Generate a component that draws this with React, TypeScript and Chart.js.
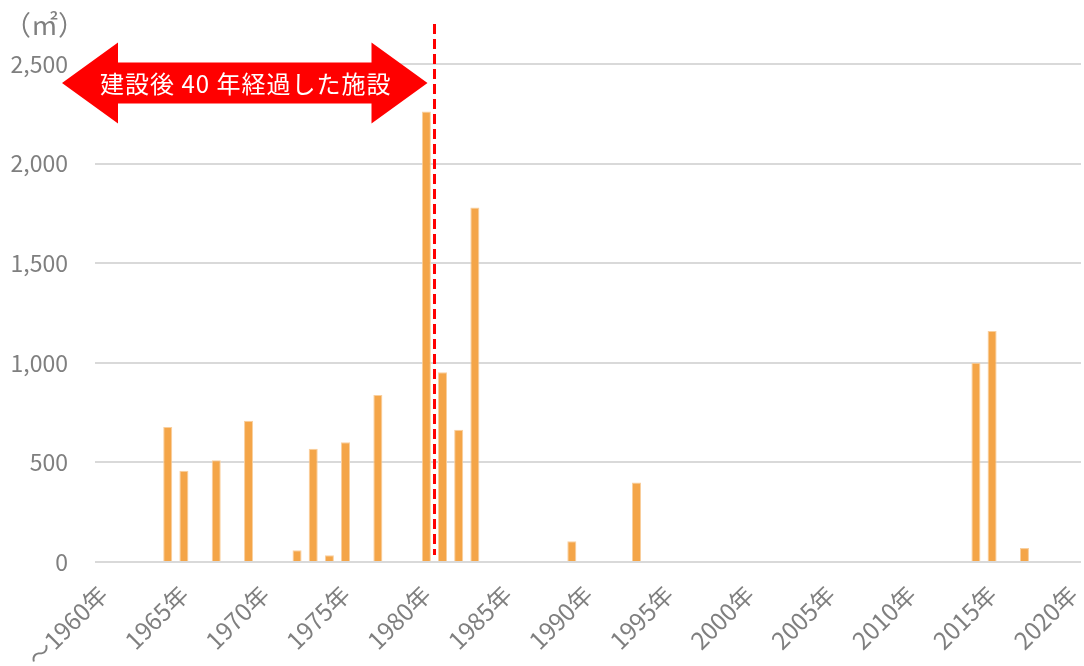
import React, { useEffect, useRef } from "react";
import { Chart, registerables } from "chart.js";

Chart.register(...registerables);

// Construction year categories (the first one gathers everything up to 1960)
const years = [
  1960, 1961, 1962, 1963, 1964, 1965, 1966, 1967, 1968, 1969,
  1970, 1971, 1972, 1973, 1974, 1975, 1976, 1977, 1978, 1979,
  1980, 1981, 1982, 1983, 1984, 1985, 1986, 1987, 1988, 1989,
  1990, 1991, 1992, 1993, 1994, 1995, 1996, 1997, 1998, 1999,
  2000, 2001, 2002, 2003, 2004, 2005, 2006, 2007, 2008, 2009,
  2010, 2011, 2012, 2013, 2014, 2015, 2016, 2017, 2018, 2019,
  2020,
];

// Years in which facilities were built and their total floor area (㎡)
const builtYears = [
  1964, 1965, 1967, 1969, 1972, 1973, 1974, 1975, 1977,
  1980, 1981, 1982, 1983, 1989, 1993, 2014, 2015, 2017,
];
const floorArea = [
  678, 458, 511, 709, 59, 568, 34, 601, 838,
  2262, 952, 664, 1779, 104, 399, 1000, 1160, 70,
];

// Y axis ticks
const yTicks = [0, 500, 1000, 1500, 2000, 2500];

// Facilities older than 40 years: built up to and including this year
const cutoffYear = 1980;
const cutoffText = "建設後 40 年経過した施設";
const unitText = "（㎡）";

const FONT = "'Noto Sans CJK JP', 'Noto Sans', sans-serif";
const TEXT_GRAY = "#7f7f7f";
const BAR_COLOR = "#f4a548";

const categoryLabels = years.map((y, i) => (i === 0 ? `～${y}年` : `${y}年`));
const seriesValues = years.map((y) => {
  const k = builtYears.indexOf(y);
  return k >= 0 ? floorArea[k] : null;
});

const overlayPlugin = {
  id: "overlay",
  afterDatasetsDraw(chart: any) {
    const { ctx, scales } = chart;
    const x = scales.x;
    const y = scales.y;
    const idx = years.indexOf(cutoffYear);
    const half = (x.getPixelForValue(1) - x.getPixelForValue(0)) / 2;
    const lineX = Math.round(x.getPixelForValue(idx) + half) + 0.5;
    const top2500 = y.getPixelForValue(yTicks[yTicks.length - 1]);

    ctx.save();

    // double-headed arrow
    const cy = top2500 + 19;
    const leftTip = 62;
    const rightTip = lineX - 7;
    const headLen = 56;
    const headHalf = 40.5;
    const shaftHalf = 20.5;
    ctx.fillStyle = "#ff0000";
    ctx.beginPath();
    ctx.moveTo(leftTip, cy);
    ctx.lineTo(leftTip + headLen, cy - headHalf);
    ctx.lineTo(leftTip + headLen, cy - shaftHalf);
    ctx.lineTo(rightTip - headLen, cy - shaftHalf);
    ctx.lineTo(rightTip - headLen, cy - headHalf);
    ctx.lineTo(rightTip, cy);
    ctx.lineTo(rightTip - headLen, cy + headHalf);
    ctx.lineTo(rightTip - headLen, cy + shaftHalf);
    ctx.lineTo(leftTip + headLen, cy + shaftHalf);
    ctx.lineTo(leftTip + headLen, cy + headHalf);
    ctx.closePath();
    ctx.fill();

    ctx.fillStyle = "#ffffff";
    ctx.font = `24px ${FONT}`;
    (ctx as any).letterSpacing = "1px";
    ctx.textAlign = "center";
    ctx.textBaseline = "middle";
    ctx.fillText(cutoffText, (leftTip + rightTip) / 2 + 1, cy + 1);
    (ctx as any).letterSpacing = "0px";

    // dashed divider between 1980 and 1981
    ctx.strokeStyle = "#ff0000";
    ctx.lineWidth = 3;
    ctx.setLineDash([10, 5]);
    ctx.beginPath();
    ctx.moveTo(lineX, 24);
    ctx.lineTo(lineX, y.getPixelForValue(0) - 7);
    ctx.stroke();
    ctx.setLineDash([]);

    // unit label
    ctx.fillStyle = TEXT_GRAY;
    ctx.font = `27px ${FONT}`;
    ctx.textAlign = "left";
    ctx.textBaseline = "middle";
    ctx.fillText(unitText, 4, 25);

    ctx.restore();
  },
};

export default function App() {
  const canvasRef = useRef<HTMLCanvasElement | null>(null);

  useEffect(() => {
    const canvas = canvasRef.current;
    if (!canvas) return;
    const chart = new Chart(canvas, {
      type: "bar",
      data: {
        labels: categoryLabels,
        datasets: [
          {
            data: seriesValues,
            backgroundColor: BAR_COLOR,
            borderColor: "#f9cf9e",
            borderWidth: 1,
            barPercentage: 0.56,
            categoryPercentage: 1,
          },
        ],
      },
      options: {
        animation: false,
        responsive: true,
        maintainAspectRatio: false,
        layout: { padding: { top: 64, right: 3, left: 0, bottom: 0 } },
        plugins: {
          legend: { display: false },
          tooltip: { enabled: false },
        },
        scales: {
          x: {
            grid: { display: false, drawTicks: false },
            border: { display: false },
            ticks: {
              autoSkip: false,
              minRotation: 45,
              maxRotation: 45,
              padding: 18,
              color: TEXT_GRAY,
              font: { family: FONT, size: 24 },
              callback: (_v: any, i: number) => (i % 5 === 0 ? categoryLabels[i] : ""),
            },
            afterFit: (s: any) => {
              s.height = 104;
              s.paddingLeft = 0;
              s.paddingRight = 0;
            },
          },
          y: {
            min: 0,
            max: 2500,
            afterBuildTicks: (s: any) => {
              s.ticks = yTicks.map((v) => ({ value: v }));
            },
            grid: { color: "#d9d9d9", lineWidth: 2, drawTicks: false },
            border: { display: false },
            ticks: {
              padding: 27,
              color: TEXT_GRAY,
              font: { family: FONT, size: 23 },
              callback: (v: any) => Number(v).toLocaleString("en-US"),
            },
            afterFit: (s: any) => {
              s.width = 95;
            },
          },
        },
      },
      plugins: [overlayPlugin],
    });
    return () => chart.destroy();
  }, []);

  return (
    <div style={{ position: "fixed", left: 0, top: 0, width: 1084, height: 666, background: "#fff" }}>
      <canvas ref={canvasRef} />
    </div>
  );
}
